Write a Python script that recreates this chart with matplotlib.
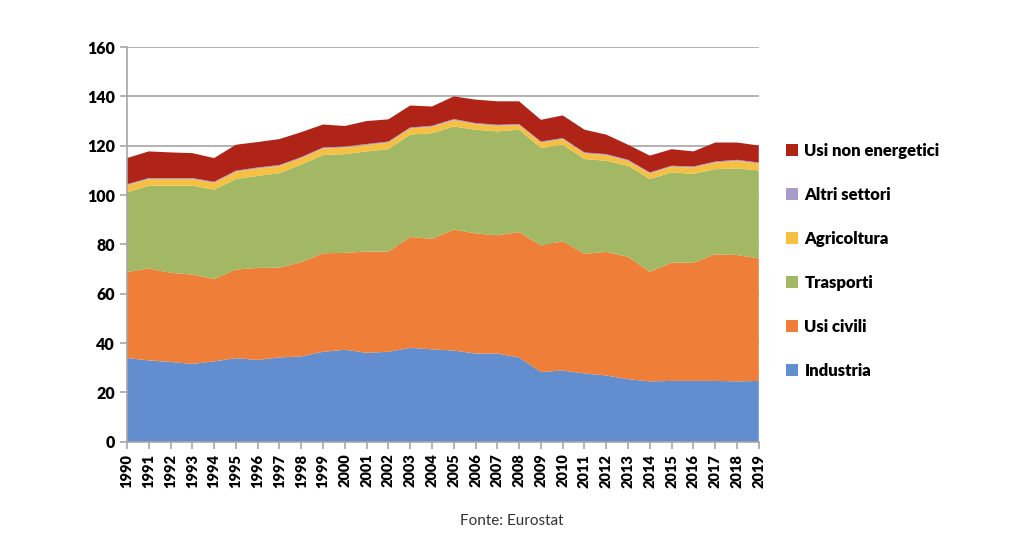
import numpy as np
import matplotlib.pyplot as plt

plt.rcParams['font.family'] = ['Lato', 'DejaVu Sans']

years = list(range(1990, 2020))

# consumi per settore
industria = [34.0, 33.0, 32.4, 31.6, 32.6, 33.9, 33.2, 34.2, 34.6, 36.5,
             37.3, 36.1, 36.5, 38.1, 37.5, 37.0, 35.8, 35.8, 34.2, 28.3,
             28.9, 27.7, 26.9, 25.4, 24.5, 24.7, 24.7, 24.7, 24.5, 24.7]
usi_civili = [34.8, 37.3, 36.1, 36.2, 33.4, 35.9, 37.3, 36.4, 38.2, 39.9,
              39.3, 41.0, 40.6, 44.9, 44.8, 49.0, 48.7, 47.9, 50.8, 51.3,
              52.4, 48.5, 50.1, 49.6, 44.4, 47.9, 47.9, 51.3, 51.2, 49.6]
trasporti = [32.3, 33.5, 35.3, 36.0, 36.2, 36.7, 37.3, 38.3, 39.6, 39.8,
             40.0, 40.6, 41.5, 41.5, 42.8, 41.8, 42.0, 42.1, 41.5, 39.5,
             39.1, 38.4, 36.9, 36.9, 37.6, 36.6, 36.0, 34.5, 35.1, 35.7]
agricoltura = [2.9, 2.7, 2.7, 2.7, 2.8, 3.0, 3.0, 2.9, 2.6, 2.7,
               2.7, 2.6, 2.7, 2.5, 2.6, 2.6, 2.3, 2.3, 1.9, 2.2,
               2.3, 2.3, 2.3, 2.0, 2.3, 2.3, 2.6, 2.7, 3.1, 2.8]
altri_settori = [0.4] * 30
usi_non_energetici = [10.6, 10.8, 10.4, 10.1, 9.6, 10.5, 10.3, 10.5, 10.1, 9.3,
                      8.3, 9.3, 9.0, 8.9, 7.8, 9.2, 9.5, 9.5, 9.2, 8.8,
                      9.2, 9.2, 7.9, 6.1, 6.8, 6.7, 6.1, 7.7, 7.0, 6.9]

labels = ['Industria', 'Usi civili', 'Trasporti', 'Agricoltura',
          'Altri settori', 'Usi non energetici']
colors = ['#628ECF', '#EE7E38', '#A2B865', '#F6C143', '#A89BC8', '#B02418']

fig = plt.figure(figsize=(10.24, 5.6), dpi=100)
ax = fig.add_axes([0.124, 0.211, 0.617, 0.705])

polys = ax.stackplot(years, industria, usi_civili, trasporti, agricoltura,
                     altri_settori, usi_non_energetici,
                     colors=colors, labels=labels, linewidth=0, zorder=2)

ax.set_xlim(1990, 2019)
ax.set_ylim(0, 160)
ax.set_yticks(np.arange(0, 161, 20))
ax.set_xticks(years)
ax.set_xticklabels([str(y) for y in years], rotation=90, fontweight='heavy', fontsize=10.5)
for t in ax.get_yticklabels():
    t.set_fontweight('heavy')
    t.set_fontsize(11.5)

ax.yaxis.grid(True, color='#A6A6A6', linewidth=1.2, zorder=0)
ax.set_axisbelow(True)
for s in ['top', 'right']:
    ax.spines[s].set_visible(False)
for s in ['left', 'bottom']:
    ax.spines[s].set_color('#A6A6A6')
    ax.spines[s].set_linewidth(1.2)
ax.tick_params(axis='both', colors='#A6A6A6', length=5, width=1.2, direction='out')
ax.tick_params(axis='both', labelcolor='black')

handles = polys[::-1]
leg = fig.legend(handles, labels[::-1], loc='upper left', bbox_to_anchor=(0.753, 0.772),
                 frameon=False, handlelength=0.7, handleheight=0.7, handletextpad=0.4,
                 labelspacing=1.68, prop={'weight': 'heavy', 'size': 12})

fig.text(0.5, 0.07, 'Fonte: Eurostat', ha='center', va='center', fontsize=11, color='#333333')

fig.savefig('out.png', dpi=100)
